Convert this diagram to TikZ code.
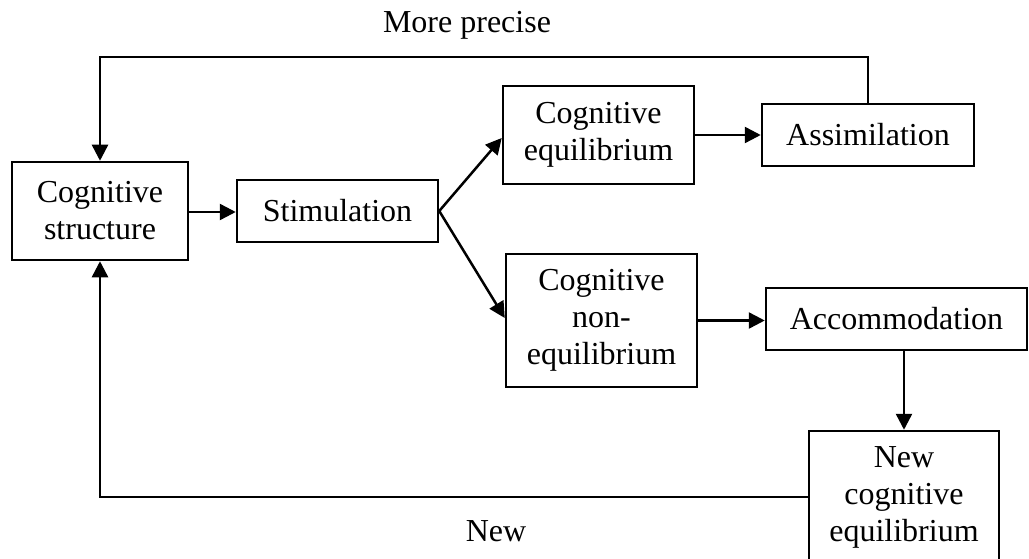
\documentclass[tikz,border=0pt]{standalone}
\usepackage{fontspec}
\setmainfont{Liberation Serif}
\usetikzlibrary{arrows.meta}
\begin{document}
\begin{tikzpicture}[x=1pt,y=-1pt,
  box/.style={draw, line width=2.5pt, inner sep=0pt, align=center,
    font=\fontsize{32}{37}\selectfont},
  link/.style={line width=2.5pt, -{Triangle[length=16pt,width=16pt]}},
  lbl/.style={font=\fontsize{32}{37}\selectfont, inner sep=0pt}]
\clip (0,0) rectangle (1029,559);
\fill[white] (0,0) rectangle (1029,559);

% boxes
\node[box, minimum width=176pt, minimum height=98pt] (cs) at (100,211) {Cognitive\\structure};
\node[box, minimum width=201pt, minimum height=62pt] (st) at (337.5,211) {Stimulation};
\node[box, minimum width=191pt, minimum height=98pt] (ce) at (598.5,135) {Cognitive\\equilibrium};
\node[box, minimum width=212pt, minimum height=62pt] (as) at (868,135) {Assimilation};
\node[box, minimum width=191pt, minimum height=133pt] (ne) at (601.5,320.5) {Cognitive\\non-\\equilibrium};
\node[box, minimum width=261pt, minimum height=62pt] (ac) at (896.5,319) {Accommodation};
\node[box, minimum width=190pt, minimum height=132pt] (nce) at (904,497) {New\\cognitive\\equilibrium};

% labels
\node[lbl] (lprecise) at (467,25) {More precise};
\node[lbl] (lnew) at (496,531) {New};

% connectors
\coordinate (top) at (0,57);
\draw[link] (cs.east |- 0,212) -- (st.west |- 0,212);
\draw[link] (st.east) -- (ce.west |- 0,138);
\draw[link] (st.east) -- (ne.west |- 0,318);
\draw[link] (ce.east) -- (as.west);
\draw[link] (ne.east) -- (ac.west |- ne.east);
\draw[link] (ac.south -| nce.north) -- (nce.north);
\draw[link] (as.north) |- (top -| cs.north) -- (cs.north);
\draw[link] (nce.west) -| (cs.south);
\end{tikzpicture}
\end{document}
